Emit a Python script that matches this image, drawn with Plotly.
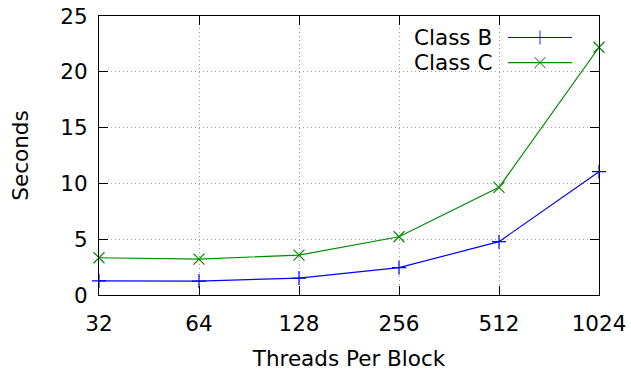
import math
import plotly.graph_objects as go

# Threads-per-block sweep and measured run times (seconds)
threads = [32, 64, 128, 256, 512, 1024]
thread_labels = ["32", "64", "128", "256", "512", "1024"]
class_b = [1.27, 1.25, 1.52, 2.45, 4.78, 11.05]
class_c = [3.34, 3.22, 3.58, 5.22, 9.65, 22.2]
y_ticks = [0, 5, 10, 15, 20, 25]

BLUE = "#0000ff"
GREEN = "#008a00"
FONT = "DejaVu Sans"
FS = 21.5

fig = go.Figure()

series = [
    ("Class B", class_b, BLUE, "cross-thin", 10),
    ("Class C", class_c, GREEN, "x-thin", 11),
]
for name, vals, col, sym, msize in series:
    fig.add_trace(go.Scatter(
        x=threads, y=vals, name=name, mode="lines+markers",
        line=dict(color=col, width=1.2),
        marker=dict(symbol=sym, size=msize, color=col, line=dict(color=col, width=1.2)),
        showlegend=False, cliponaxis=False,
    ))

# Key: label on the left, line sample with a marker on the right
key_rows = [0.923, 0.833]
for (name, vals, col, sym, msize), ky in zip(series, key_rows):
    fig.add_trace(go.Scatter(
        x=[0.818, 0.882, 0.946], y=[ky, ky, ky], xaxis="x2", yaxis="y2",
        mode="lines+markers",
        line=dict(color=col, width=1.2),
        marker=dict(symbol=sym, size=[0, msize, 0], color=col, line=dict(color=col, width=1.2)),
        showlegend=False, hoverinfo="skip",
    ))
    fig.add_annotation(
        x=0.79, y=ky, xref="paper", yref="paper", text=name, showarrow=False,
        xanchor="right", yanchor="middle", font=dict(family=FONT, size=FS, color="black"),
    )

axis_common = dict(
    showline=True, linecolor="black", linewidth=1, mirror="ticks",
    ticks="inside", ticklen=9, tickwidth=1, tickcolor="black",
    showgrid=True, gridcolor="#a0a0a0", griddash="1px,3px", gridwidth=1,
    zeroline=False, automargin=False,
    tickfont=dict(family=FONT, size=FS, color="black"),
)

x_lo = math.log10(threads[0]) - 1e-5
x_hi = math.log10(threads[-1]) + 1e-5

fig.update_layout(
    width=631, height=371,
    margin=dict(l=99, r=32, t=16, b=76),
    paper_bgcolor="white", plot_bgcolor="white",
    font=dict(family=FONT, size=FS, color="black"),
    xaxis=dict(
        type="log", range=[x_lo, x_hi],
        tickvals=threads, ticktext=thread_labels, ticklabelstandoff=9,
        title=dict(text="Threads Per Block", standoff=16, font=dict(family=FONT, size=FS)),
        **axis_common,
    ),
    yaxis=dict(
        range=[0, 25], tickvals=y_ticks, ticklabelstandoff=6,
        title=dict(text="Seconds", standoff=25, font=dict(family=FONT, size=FS)),
        **axis_common,
    ),
    xaxis2=dict(range=[0, 1], overlaying="x", visible=False, fixedrange=True),
    yaxis2=dict(range=[0, 1], overlaying="y", visible=False, fixedrange=True),
)

fig.write_html("out.html")
